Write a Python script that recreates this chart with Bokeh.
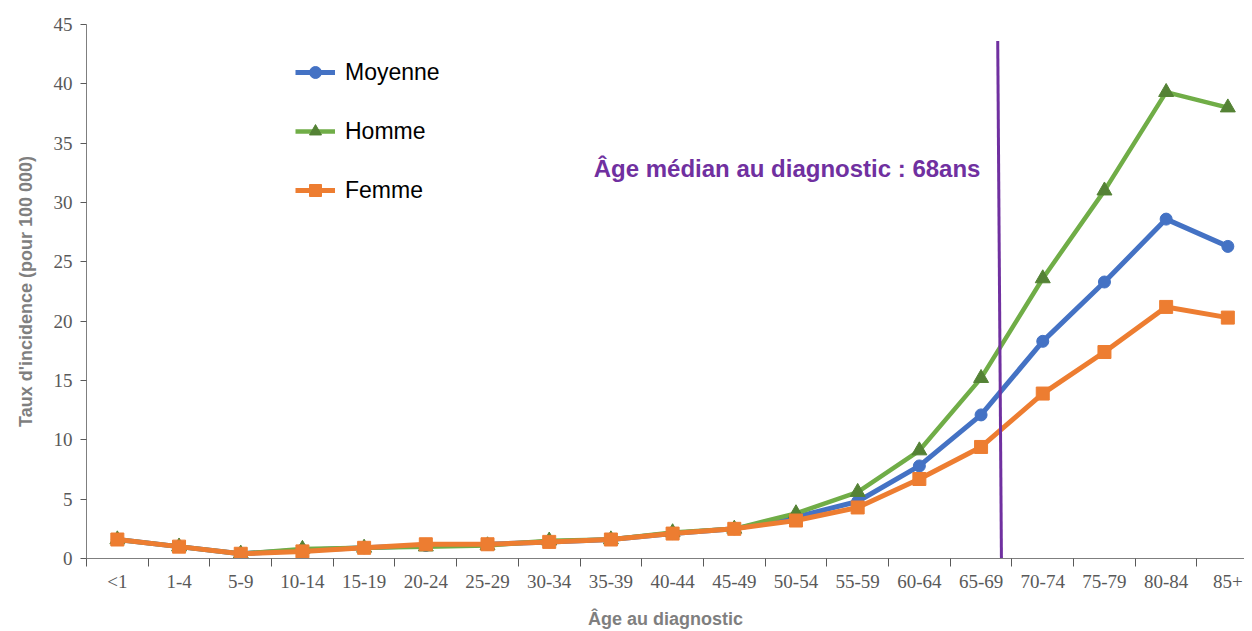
from bokeh.plotting import figure
from bokeh.models import Range1d, FixedTicker, Legend, Label
from bokeh.embed import file_html
from bokeh.resources import INLINE

categories = ["<1", "1-4", "5-9", "10-14", "15-19", "20-24", "25-29", "30-34", "35-39",
              "40-44", "45-49", "50-54", "55-59", "60-64", "65-69", "70-74", "75-79",
              "80-84", "85+"]
moyenne = [1.6, 1.0, 0.4, 0.7, 0.9, 1.1, 1.2, 1.4, 1.6, 2.1, 2.5, 3.5, 4.8, 7.8, 12.1,
           18.3, 23.3, 28.6, 26.3]
homme = [1.6, 1.0, 0.4, 0.8, 0.9, 1.0, 1.1, 1.5, 1.6, 2.2, 2.5, 3.8, 5.6, 9.1, 15.2,
         23.6, 31.0, 39.3, 38.0]
femme = [1.6, 1.0, 0.4, 0.6, 0.9, 1.2, 1.2, 1.4, 1.6, 2.1, 2.5, 3.2, 4.3, 6.7, 9.4,
         13.9, 17.4, 21.2, 20.3]
y_ticks = [0, 5, 10, 15, 20, 25, 30, 35, 40, 45]
median_x = [14.27, 14.33]   # top, bottom of the median marker line (category index units)
median_y = [43.6, 0]
median_text = "Âge médian au diagnostic : 68ans"

x = list(range(len(categories)))

p = figure(width=1244, height=631, output_backend="svg", toolbar_location=None,
           x_range=Range1d(-0.5, 18.27), y_range=Range1d(0, 45),
           min_border_left=86, min_border_right=0, min_border_top=24, min_border_bottom=73)
p.outline_line_color = None
p.xgrid.visible = False
p.ygrid.visible = False
p.background_fill_color = "white"

axis_col = "#7f7f7f"
tick_col = "#595959"

# x axis
p.xaxis.ticker = FixedTicker(ticks=x, minor_ticks=[i - 0.5 for i in range(len(categories) + 1)])
p.xaxis.major_label_overrides = {i: c for i, c in enumerate(categories)}
p.xaxis.major_tick_out = 0
p.xaxis.major_tick_in = 0
p.xaxis.minor_tick_out = 8
p.xaxis.minor_tick_in = 0
p.xaxis.minor_tick_line_color = tick_col
p.xaxis.axis_line_color = axis_col
p.xaxis.major_label_text_font = "Liberation Serif"
p.xaxis.major_label_text_font_size = "19px"
p.xaxis.major_label_text_color = tick_col
p.xaxis.major_label_standoff = 4
p.xaxis.axis_label = "Âge au diagnostic"
p.xaxis.axis_label_text_font = "Liberation Sans"
p.xaxis.axis_label_text_font_style = "bold"
p.xaxis.axis_label_text_font_size = "18px"
p.xaxis.axis_label_text_color = axis_col
p.xaxis.axis_label_standoff = 14

# y axis
p.yaxis.ticker = FixedTicker(ticks=y_ticks)
p.yaxis.major_tick_out = 6
p.yaxis.major_tick_in = 0
p.yaxis.minor_tick_line_color = None
p.yaxis.major_tick_line_color = tick_col
p.yaxis.axis_line_color = axis_col
p.yaxis.major_label_text_font = "Liberation Serif"
p.yaxis.major_label_text_font_size = "19px"
p.yaxis.major_label_text_color = tick_col
p.yaxis.major_label_standoff = 8
p.yaxis.axis_label = "Taux d'incidence (pour 100 000)"
p.yaxis.axis_label_text_font = "Liberation Sans"
p.yaxis.axis_label_text_font_style = "bold"
p.yaxis.axis_label_text_font_size = "18px"
p.yaxis.axis_label_text_color = axis_col
p.yaxis.axis_label_standoff = 15

blue = "#4472C4"
green = "#70AD47"
green_dark = "#548235"
orange = "#ED7D31"

l1 = p.line(x, moyenne, line_color=blue, line_width=5)
s1 = p.scatter(x, moyenne, marker="circle", size=12, fill_color=blue, line_color=blue)
l2 = p.line(x, homme, line_color=green, line_width=4.5)
s2 = p.scatter(x, homme, marker="triangle", size=15, fill_color=green_dark, line_color=green_dark)
l3 = p.line(x, femme, line_color=orange, line_width=5)
s3 = p.scatter(x, femme, marker="square", size=13, fill_color=orange, line_color=orange)

p.line(median_x, median_y, line_color="#7030A0", line_width=3)

lab = Label(x=13.99, y=32.9, text=median_text, text_align="right", text_baseline="middle",
            text_font="Liberation Sans", text_font_style="bold", text_font_size="24px",
            text_color="#7030A0")
p.add_layout(lab)

legend = Legend(items=[("Moyenne", [l1, s1]), ("Homme", [l2, s2]), ("Femme", [l3, s3])],
                location=(209, 353), orientation="vertical",
                glyph_width=40, glyph_height=30, label_height=30, spacing=29,
                label_standoff=10, padding=0, margin=0,
                border_line_alpha=0, background_fill_alpha=0,
                label_text_font="Liberation Sans", label_text_font_size="23px",
                label_text_color="black")
p.add_layout(legend)

open("out.html", "w").write(file_html(p, INLINE))
